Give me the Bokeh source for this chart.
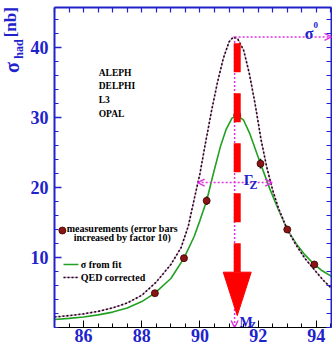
import math

from bokeh.plotting import figure
from bokeh.layouts import row
from bokeh.models import Range1d, FixedTicker, LinearAxis, Label, Arrow, OpenHead
from bokeh.core.properties import value
from bokeh.embed import file_html
from bokeh.resources import INLINE

# Hadronic cross-section near the Z pole (LEP combined)
qed_energy = [85.0, 85.5, 86.0, 86.5, 87.0, 87.5, 88.0, 88.5, 89.0, 89.35, 89.6,
              89.8, 90.0, 90.2, 90.4, 90.6, 90.8, 91.0, 91.15, 91.3, 91.5, 91.7,
              91.9, 92.1, 92.3, 92.5, 92.7, 93.0, 93.3, 93.6, 94.0, 94.25, 94.52]
qed_sigma = [1.5, 1.7, 1.95, 2.3, 2.8, 3.5, 4.6, 6.5, 9.0, 11.4, 14.5,
             18.3, 22.0, 26.6, 31.0, 35.0, 38.4, 40.8, 41.5, 41.2, 39.6, 36.2,
             31.8, 26.8, 22.8, 19.6, 17.0, 14.0, 11.8, 9.9, 7.9, 6.7, 5.6]

fit_energy = [85.0, 85.5, 86.0, 86.5, 87.0, 87.5, 88.0, 88.45, 89.0, 89.45, 89.8,
              90.0, 90.23, 90.46, 90.7, 90.9, 91.1, 91.28, 91.5, 91.7, 91.83, 92.08,
              92.17, 92.4, 92.7, 93.0, 93.3, 93.6, 93.93, 94.2, 94.52]
fit_sigma = [1.15, 1.3, 1.5, 1.8, 2.2, 2.8, 3.7, 4.9, 7.0, 9.9, 13.0,
             15.3, 18.1, 22.0, 25.8, 28.3, 29.9, 30.3, 29.6, 27.8, 26.3, 23.4,
             22.4, 19.8, 16.8, 14.0, 12.0, 10.4, 9.0, 8.1, 7.3]

meas_energy = [88.45, 89.45, 90.23, 91.28, 92.08, 93.0, 93.93]
meas_sigma = [4.9, 9.9, 18.1, 30.3, 23.4, 14.0, 9.0]
meas_err = [0.2, 0.25, 0.6, 0.4, 0.7, 0.3, 0.25]

experiments = ["ALEPH", "DELPHI", "L3", "OPAL"]

x_ticks = [86, 88, 90, 92, 94]
y_ticks = [10, 20, 30, 40]

# Z line-shape parameters marked on the plot
m_z = 91.19
sigma_0 = 41.5
gamma_lo, gamma_hi = 89.92, 92.48
half_max = 20.7
fit_peak_x = 91.28

BLUE = "#2222cc"
MAGENTA = "#e030e0"
GREEN = "#22a022"
RED = "#ff0000"
SERIF = "Liberation Serif"

x_lo, x_hi = 85.0, 94.52
y_lo, y_hi = 0.0, 45.7

p = figure(width=308, height=347, x_range=Range1d(x_lo, x_hi), y_range=Range1d(y_lo, y_hi),
           output_backend="svg", toolbar_location=None,
           min_border_left=30, min_border_right=1, min_border_top=7, min_border_bottom=20)
p.grid.visible = False
p.outline_line_color = None
p.background_fill_color = "white"

x_minor = [x_lo + 0.5 * i for i in range(20)]
y_minor = [2.0 * i for i in range(23)]

for ax in [p.xaxis[0], p.yaxis[0]]:
    ax.major_tick_in = 7
    ax.major_tick_out = 0
    ax.minor_tick_in = 4
    ax.minor_tick_out = 0
    ax.major_label_text_font = SERIF
    ax.major_label_text_font_style = "bold"
    ax.major_label_text_font_size = "18px"
    ax.major_label_text_color = BLUE
p.xaxis[0].ticker = FixedTicker(ticks=x_ticks, minor_ticks=x_minor)
p.yaxis[0].ticker = FixedTicker(ticks=y_ticks, minor_ticks=y_minor)
p.xaxis[0].major_label_standoff = 1
p.yaxis[0].major_label_standoff = 6

# mirrored frame edges carry only tick marks
top_axis = LinearAxis(ticker=FixedTicker(ticks=[], minor_ticks=x_minor))
right_axis = LinearAxis(ticker=FixedTicker(ticks=[], minor_ticks=y_minor))
for ax in [top_axis, right_axis]:
    ax.minor_tick_in = 5
    ax.minor_tick_out = 0
    ax.major_tick_out = 0
    ax.major_label_standoff = 0
p.add_layout(top_axis, "above")
p.add_layout(right_axis, "right")

for ax in [p.xaxis[0], p.yaxis[0], top_axis, right_axis]:
    ax.axis_line_color = BLUE
    ax.axis_line_width = 2
    ax.major_tick_line_color = BLUE
    ax.major_tick_line_width = 1.5
    ax.minor_tick_line_color = BLUE
    ax.minor_tick_line_width = 1.2

# line shapes
p.line(fit_energy, fit_sigma, line_color=GREEN, line_width=1.6)
p.line(qed_energy, qed_sigma, line_color="#d8a0d0", line_width=1.2)
p.line(qed_energy, qed_sigma, line_color="#1a0a10", line_width=1.6, line_dash="2 2")

# measurements with enlarged error bars
p.segment(x0=meas_energy, y0=[s - e for s, e in zip(meas_sigma, meas_err)],
          x1=meas_energy, y1=[s + e for s, e in zip(meas_sigma, meas_err)],
          line_color="black", line_width=1.6)
p.scatter(meas_energy, meas_sigma, size=7, fill_color="#8b1414", line_color="#3a0000", line_width=0.8)

# vertical marker at M_Z (drawn under the red arrow)
p.add_layout(Arrow(x_start=m_z, y_start=sigma_0, x_end=m_z, y_end=y_lo,
                   line_color=MAGENTA, line_width=1.5, line_dash="2 2", level="underlay",
                   end=OpenHead(size=7, line_color=MAGENTA, line_width=1.5)))

# red dashed arrow pointing at M_Z
shaft_top, head_base, head_tip, head_half = 40.6, 7.9, 1.7, 0.48
p.line([fit_peak_x, fit_peak_x], [shaft_top, head_base], line_color=RED, line_width=7,
       line_dash="29 21", line_cap="butt")
p.patch([fit_peak_x - head_half, fit_peak_x + head_half, fit_peak_x],
        [head_base, head_base, head_tip], fill_color=RED, line_color=RED)

# sigma_0 and Gamma_Z markers
p.add_layout(Arrow(x_start=m_z, y_start=sigma_0, x_end=x_hi, y_end=sigma_0,
                   line_color=MAGENTA, line_width=1.5, line_dash="2 2",
                   end=OpenHead(size=7, line_color=MAGENTA, line_width=1.5)))
p.add_layout(Arrow(x_start=gamma_lo, y_start=half_max, x_end=gamma_hi, y_end=half_max,
                   line_color=MAGENTA, line_width=1.5, line_dash="2 2",
                   start=OpenHead(size=7, line_color=MAGENTA, line_width=1.5),
                   end=OpenHead(size=7, line_color=MAGENTA, line_width=1.5)))


def add_text(text, x, y, size, color=BLUE, align="left", baseline="alphabetic"):
    p.add_layout(Label(x=x, y=y, text=text, text_font=SERIF, text_font_style="bold",
                       text_font_size=size, text_color=color,
                       text_align=align, text_baseline=baseline))


add_text("σ", 93.6, 42.0, "16px")
add_text("0", 93.9, 43.2, "9px")
add_text("Γ", 91.5, 21.1, "15px")
add_text("Z", 91.7, 20.3, "12px")
add_text("M", 91.36, 0.75, "14px")
add_text("Z", 91.72, 0.3, "9px")

for i, name in enumerate(experiments):
    add_text(name, 86.52, 36.4 - 1.95 * i, "9.5px", color="black", baseline="middle")

# legend
p.scatter([85.27], [13.85], size=7, fill_color="#8b1414", line_color="#3a0000", line_width=0.8)
add_text("measurements (error bars", 87.33, 14.15, "10px", color="black", align="center", baseline="middle")
add_text("increased by factor 10)", 87.33, 12.85, "10px", color="black", align="center", baseline="middle")
p.line([85.31, 85.82], [9.0, 9.0], line_color=GREEN, line_width=1.6)
add_text("σ from fit", 85.9, 9.0, "10px", color="black", baseline="middle")
p.line([85.31, 85.82], [7.15, 7.15], line_color="#d8a0d0", line_width=1.2)
p.line([85.31, 85.82], [7.15, 7.15], line_color="#1a0a10", line_width=1.6, line_dash="2 2")
add_text("QED corrected", 85.9, 7.15, "10px", color="black", baseline="middle")

# narrow strip on the left holding the rotated axis title, in pixel units
title_strip = figure(width=24, height=347, x_range=Range1d(0, 24), y_range=Range1d(0, 347),
                     output_backend="svg", toolbar_location=None, min_border=0,
                     x_axis_location=None, y_axis_location=None)
title_strip.grid.visible = False
title_strip.outline_line_color = None
title_parts = ["σ", "had", "[nb]"]
title_x = [11, 18, 10]
title_y = [282, 302, 331]
title_sizes = ["20px", "12px", "17px"]
for txt, tx, ty, ts in zip(title_parts, title_x, title_y, title_sizes):
    title_strip.text(x=[tx], y=[ty], text=[txt], angle=math.pi / 2, text_align="center",
                     text_baseline="middle", text_font=value(SERIF), text_font_style="bold",
                     text_font_size=ts, text_color=BLUE)

layout = row(title_strip, p, spacing=0)
open("out.html", "w").write(file_html(layout, INLINE))
